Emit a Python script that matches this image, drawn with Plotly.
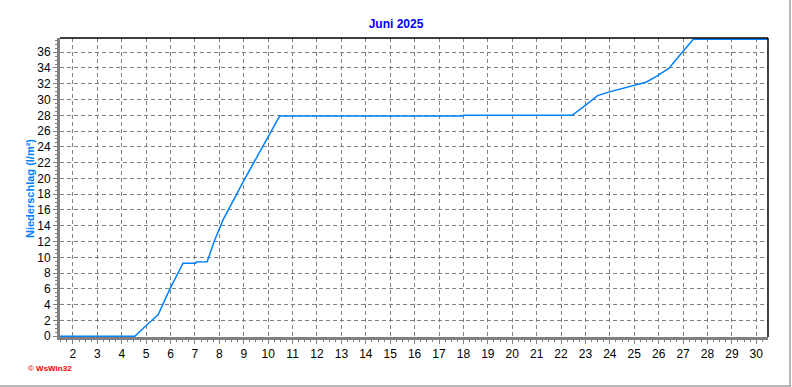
import plotly.graph_objects as go

# Data (day of June, cumulative precipitation l/m²)
days = [1.47, 4.54, 5.02, 5.49, 5.97, 6.51, 7.03, 7.05, 7.5, 7.81, 8.15, 8.43,
        9.04, 10.47, 17.98, 18.0, 22.45, 22.89, 23.30, 23.50, 23.98, 24.93,
        25.48, 25.89, 26.43, 26.64, 26.98, 27.42, 30.48]
rain = [0, 0, 1.43, 2.7, 5.96, 9.25, 9.25, 9.4, 9.45, 12.2, 14.74, 16.43,
        19.94, 27.9, 27.9, 28.0, 28.0, 29.0, 30.04, 30.5, 30.97, 31.7,
        32.2, 32.9, 33.97, 34.8, 36.07, 37.64, 37.64]
x_ticks = list(range(2, 31))
y_ticks = list(range(0, 37, 2))

W, H = 792, 387
L, R, T, B = 60, 24, 38, 50
pw, ph = W - L - R, H - T - B

def px(x):
    return (x - L) / pw

def py(y):
    return (H - B - y) / ph

fig = go.Figure()
fig.add_trace(go.Scatter(x=days, y=rain, mode="lines",
                         line=dict(color="#0080FF", width=1.5),
                         showlegend=False, hoverinfo="skip"))

font = "Liberation Sans, Arial, sans-serif"
minor_common = dict(ticks="outside", ticklen=2, tickcolor="#808080",
                    showgrid=False, gridwidth=0, gridcolor="rgba(0,0,0,0)")
fig.update_layout(
    width=W, height=H,
    margin=dict(l=L, r=R, t=T, b=B),
    paper_bgcolor="white", plot_bgcolor="white",
    title=dict(text="<b>Juni 2025</b>", x=0.5, xref="container", xanchor="center",
               y=1 - 24 / H, yref="container", yanchor="middle",
               font=dict(family=font, size=12, color="#0000FF")),
    xaxis=dict(range=[1.47, 30.48], tickvals=x_ticks, ticktext=[str(v) for v in x_ticks],
               showgrid=True, gridcolor="#808080", griddash="4px,3px", gridwidth=1,
               showline=True, linecolor="#808080", linewidth=3,
               ticks="outside", ticklen=4, tickcolor="#808080", tickwidth=1,
               minor=dict(dtick=0.25, tick0=0, **minor_common),
               tickfont=dict(family=font, size=12, color="black"),
               zeroline=False, fixedrange=True),
    yaxis=dict(range=[-0.1, 37.8], tickvals=y_ticks, ticktext=[str(v) for v in y_ticks],
               showgrid=True, gridcolor="#808080", griddash="4px,3px", gridwidth=1,
               showline=True, linecolor="#808080", linewidth=3,
               ticks="outside", ticklen=4, tickcolor="#808080", tickwidth=1,
               minor=dict(dtick=0.5, tick0=0, **minor_common),
               tickfont=dict(family=font, size=12, color="black"),
               zeroline=False, fixedrange=True),
    shapes=[
        # top and right black borders of the plot area
        dict(type="line", xref="paper", yref="paper", x0=0, x1=1, y0=1, y1=1,
             line=dict(color="black", width=1.5)),
        dict(type="line", xref="paper", yref="paper", x0=1, x1=1, y0=0, y1=1,
             line=dict(color="black", width=1.5)),
        # outer frame (bottom and right)
        dict(type="line", xref="paper", yref="paper", x0=px(0), x1=px(791),
             y0=py(386), y1=py(386), line=dict(color="#A0A0A0", width=1.5)),
        dict(type="line", xref="paper", yref="paper", x0=px(790), x1=px(790),
             y0=py(0), y1=py(386), line=dict(color="#A0A0A0", width=1.5)),
    ],
    annotations=[
        dict(text="<b>Niederschlag (l/m²)</b>", xref="paper", yref="paper",
             x=px(30), y=py(189), xanchor="center", yanchor="middle",
             textangle=-90, showarrow=False,
             font=dict(family=font, size=11, color="#0080FF")),
        dict(text="<b>© WsWin32</b>", xref="paper", yref="paper",
             x=px(26), y=py(368), xanchor="left", yanchor="middle", showarrow=False,
             font=dict(family=font, size=8, color="#FF0000")),
    ],
)

fig.write_html("out.html")
